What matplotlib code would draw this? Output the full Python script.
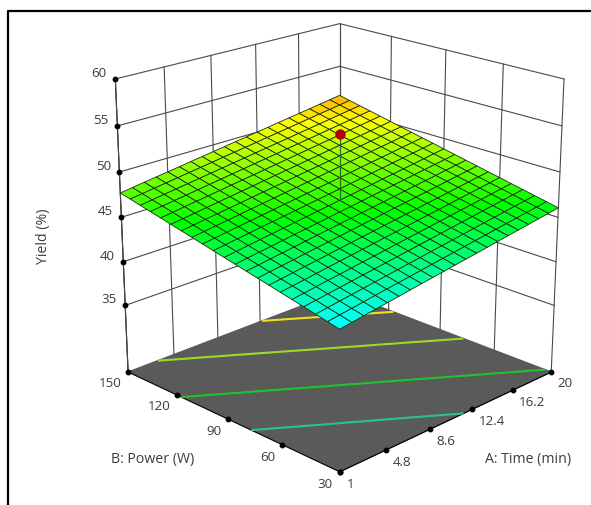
import numpy as np
import matplotlib
matplotlib.use('Agg')
import matplotlib.pyplot as plt
from matplotlib.colors import LinearSegmentedColormap, Normalize
from matplotlib.lines import Line2D

plt.rcParams['font.family'] = ['Open Sans', 'DejaVu Sans']

# axis values
time_ticks = [1, 4.8, 8.6, 12.4, 16.2, 20]
power_ticks = [30, 60, 90, 120, 150]
yield_ticks = [35, 40, 45, 50, 55, 60]
time_labels = ['1', '4.8', '8.6', '12.4', '16.2', '20']
power_labels = ['30', '60', '90', '120', '150']
yield_labels = ['35', '40', '45', '50', '55', '60']
yield_floor = 27.2
yield_top = 60

# response surface, rows = power, columns = time
time_grid = [1, 1.95, 2.9, 3.85, 4.8, 5.75, 6.7, 7.65, 8.6, 9.55, 10.5,
             11.45, 12.4, 13.35, 14.3, 15.25, 16.2, 17.15, 18.1, 19.05, 20]
power_grid = [30, 36, 42, 48, 54, 60, 66, 72, 78, 84, 90,
              96, 102, 108, 114, 120, 126, 132, 138, 144, 150]
yield_grid = [
    [42.20, 42.39, 42.59, 42.78, 42.97, 43.16, 43.36, 43.55, 43.74, 43.93, 44.13, 44.32, 44.51, 44.70, 44.90, 45.09, 45.28, 45.47, 45.67, 45.86, 46.05],
    [42.48, 42.67, 42.86, 43.05, 43.25, 43.44, 43.63, 43.82, 44.02, 44.21, 44.40, 44.59, 44.79, 44.98, 45.17, 45.36, 45.56, 45.75, 45.94, 46.13, 46.33],
    [42.75, 42.94, 43.14, 43.33, 43.52, 43.71, 43.91, 44.10, 44.29, 44.48, 44.68, 44.87, 45.06, 45.25, 45.45, 45.64, 45.83, 46.02, 46.22, 46.41, 46.60],
    [43.03, 43.22, 43.41, 43.60, 43.80, 43.99, 44.18, 44.37, 44.57, 44.76, 44.95, 45.14, 45.34, 45.53, 45.72, 45.91, 46.11, 46.30, 46.49, 46.68, 46.88],
    [43.30, 43.49, 43.69, 43.88, 44.07, 44.26, 44.46, 44.65, 44.84, 45.03, 45.23, 45.42, 45.61, 45.80, 46.00, 46.19, 46.38, 46.57, 46.77, 46.96, 47.15],
    [43.58, 43.77, 43.96, 44.15, 44.35, 44.54, 44.73, 44.92, 45.12, 45.31, 45.50, 45.69, 45.89, 46.08, 46.27, 46.46, 46.66, 46.85, 47.04, 47.23, 47.43],
    [43.85, 44.04, 44.24, 44.43, 44.62, 44.81, 45.01, 45.20, 45.39, 45.58, 45.78, 45.97, 46.16, 46.35, 46.55, 46.74, 46.93, 47.12, 47.32, 47.51, 47.70],
    [44.13, 44.32, 44.51, 44.70, 44.90, 45.09, 45.28, 45.47, 45.67, 45.86, 46.05, 46.24, 46.44, 46.63, 46.82, 47.01, 47.21, 47.40, 47.59, 47.78, 47.98],
    [44.40, 44.59, 44.79, 44.98, 45.17, 45.36, 45.56, 45.75, 45.94, 46.13, 46.33, 46.52, 46.71, 46.90, 47.10, 47.29, 47.48, 47.67, 47.87, 48.06, 48.25],
    [44.68, 44.87, 45.06, 45.25, 45.45, 45.64, 45.83, 46.02, 46.22, 46.41, 46.60, 46.79, 46.99, 47.18, 47.37, 47.56, 47.76, 47.95, 48.14, 48.33, 48.53],
    [44.95, 45.14, 45.34, 45.53, 45.72, 45.91, 46.11, 46.30, 46.49, 46.68, 46.88, 47.07, 47.26, 47.45, 47.65, 47.84, 48.03, 48.22, 48.42, 48.61, 48.80],
    [45.23, 45.42, 45.61, 45.80, 46.00, 46.19, 46.38, 46.57, 46.77, 46.96, 47.15, 47.34, 47.54, 47.73, 47.92, 48.11, 48.31, 48.50, 48.69, 48.88, 49.08],
    [45.50, 45.69, 45.89, 46.08, 46.27, 46.46, 46.66, 46.85, 47.04, 47.23, 47.43, 47.62, 47.81, 48.00, 48.20, 48.39, 48.58, 48.77, 48.97, 49.16, 49.35],
    [45.78, 45.97, 46.16, 46.35, 46.55, 46.74, 46.93, 47.12, 47.32, 47.51, 47.70, 47.89, 48.09, 48.28, 48.47, 48.66, 48.86, 49.05, 49.24, 49.43, 49.63],
    [46.05, 46.24, 46.44, 46.63, 46.82, 47.01, 47.21, 47.40, 47.59, 47.78, 47.98, 48.17, 48.36, 48.55, 48.75, 48.94, 49.13, 49.32, 49.52, 49.71, 49.90],
    [46.33, 46.52, 46.71, 46.90, 47.10, 47.29, 47.48, 47.67, 47.87, 48.06, 48.25, 48.44, 48.64, 48.83, 49.02, 49.21, 49.41, 49.60, 49.79, 49.98, 50.18],
    [46.60, 46.79, 46.99, 47.18, 47.37, 47.56, 47.76, 47.95, 48.14, 48.33, 48.53, 48.72, 48.91, 49.10, 49.30, 49.49, 49.68, 49.87, 50.07, 50.26, 50.45],
    [46.88, 47.07, 47.26, 47.45, 47.65, 47.84, 48.03, 48.22, 48.42, 48.61, 48.80, 48.99, 49.19, 49.38, 49.57, 49.76, 49.96, 50.15, 50.34, 50.53, 50.73],
    [47.15, 47.34, 47.54, 47.73, 47.92, 48.11, 48.31, 48.50, 48.69, 48.88, 49.08, 49.27, 49.46, 49.65, 49.85, 50.04, 50.23, 50.42, 50.62, 50.81, 51.00],
    [47.43, 47.62, 47.81, 48.00, 48.20, 48.39, 48.58, 48.77, 48.97, 49.16, 49.35, 49.54, 49.74, 49.93, 50.12, 50.31, 50.51, 50.70, 50.89, 51.08, 51.28],
    [47.70, 47.89, 48.09, 48.28, 48.47, 48.66, 48.86, 49.05, 49.24, 49.43, 49.63, 49.82, 50.01, 50.20, 50.40, 50.59, 50.78, 50.97, 51.17, 51.36, 51.55],
]

# floor contours
contour_levels = [44.35, 46.2, 48.2, 50.05]
contour_colors = ['#2cc483', '#22c22c', '#9fd62a', '#ecdf1e']

# design point
point_time = [10.5]
point_power = [90]
point_yield = [54.15]
point_surface = [46.88]

X, Y = np.meshgrid(time_grid, power_grid)
Z = np.array(yield_grid)

fig = plt.figure(figsize=(5.91, 5.06), dpi=100)
ax = fig.add_axes([0.062, -0.021, 1.0, 1.1], projection='3d', computed_zorder=False)
ax.view_init(elev=20.5, azim=-135)
ax.set_proj_type('persp', focal_length=0.62)
ax.set_box_aspect((1, 1, 1.015), zoom=0.935)
ax.set_xlim(1, 20)
ax.set_ylim(30, 150)
ax.set_zlim(yield_floor, yield_top)
ax.grid(False)

ax.xaxis.set_pane_color((1, 1, 1, 1))
ax.yaxis.set_pane_color((1, 1, 1, 1))
ax.zaxis.set_pane_color('#5a5a5a')

# ticks as labels only, dots are drawn below
for axis in (ax.xaxis, ax.yaxis, ax.zaxis):
    axis._axinfo['tick']['inward_factor'] = 0
    axis._axinfo['tick']['outward_factor'] = 0
    axis.line.set_linewidth(0.8)
ax.set_xticks(time_ticks, time_labels, ha='left', va='center')
ax.set_yticks(power_ticks, power_labels, ha='right', va='center')
ax.set_zticks(yield_ticks, yield_labels, ha='right', va='bottom')
ax.tick_params(labelsize=9.6, labelcolor='#3c3c3c')
ax.tick_params(axis='x', pad=-2)
ax.tick_params(axis='y', pad=-2)
ax.tick_params(axis='z', pad=-4)

# wall grid
wall = dict(color='#4a4a4a', lw=0.8, zorder=1)
for t in time_ticks:
    ax.plot([t, t], [150, 150], [yield_floor, yield_top], **wall)
for p in power_ticks:
    ax.plot([20, 20], [p, p], [yield_floor, yield_top], **wall)
for z in yield_ticks:
    ax.plot([1, 20], [150, 150], [z, z], **wall)
    ax.plot([20, 20], [30, 150], [z, z], **wall)

# floor contours
ax.contour(X, Y, Z, levels=contour_levels, zdir='z', offset=yield_floor,
           colors=contour_colors, linewidths=1.5, zorder=2)

# tick dots
dot = dict(color='black', marker='o', ms=3.2, ls='none', zorder=2)
ax.plot(time_ticks, [30] * len(time_ticks), [yield_floor] * len(time_ticks), **dot)
ax.plot([1] * len(power_ticks), power_ticks, [yield_floor] * len(power_ticks), **dot)
ax.plot([1] * len(yield_ticks), [150] * len(yield_ticks), yield_ticks, **dot)

# surface
rainbow = LinearSegmentedColormap.from_list(
    'bgyr', ['#0000ff', '#00ffff', '#00ff00', '#ffff00', '#ff0000'])
norm = Normalize(38.3, 54.3)
face = rainbow(norm((Z[:-1, :-1] + Z[1:, 1:]) / 2))
ax.plot_surface(X, Y, Z, facecolors=face, rstride=1, cstride=1, shade=False,
                edgecolor='#14300c', linewidth=0.6, zorder=3)

# design point and its pole
ax.plot(point_time * 2, point_power * 2, point_surface + point_yield,
        color='#2c6a20', lw=0.9, zorder=4)
ax.plot(point_time, point_power, point_yield, color='#b00000', marker='o',
        ms=6.5, ls='none', zorder=5)

# axis titles
fig.text(153 / 591, 1 - 460 / 506, 'B: Power (W)', ha='center', va='center', fontsize=10.2, color='#3c3c3c')
fig.text(528 / 591, 1 - 460 / 506, 'A: Time (min)', ha='center', va='center', fontsize=10.2, color='#3c3c3c')
fig.text(44 / 591, 1 - 236 / 506, 'Yield (%)', ha='center', va='center', rotation=90, fontsize=10.2, color='#3c3c3c')

# frame, top and left only
fig.add_artist(Line2D([8 / 591, 8 / 591, 1], [0, 1 - 12 / 506, 1 - 12 / 506], color='black', lw=1.6))

fig.savefig('out.png', dpi=100)
